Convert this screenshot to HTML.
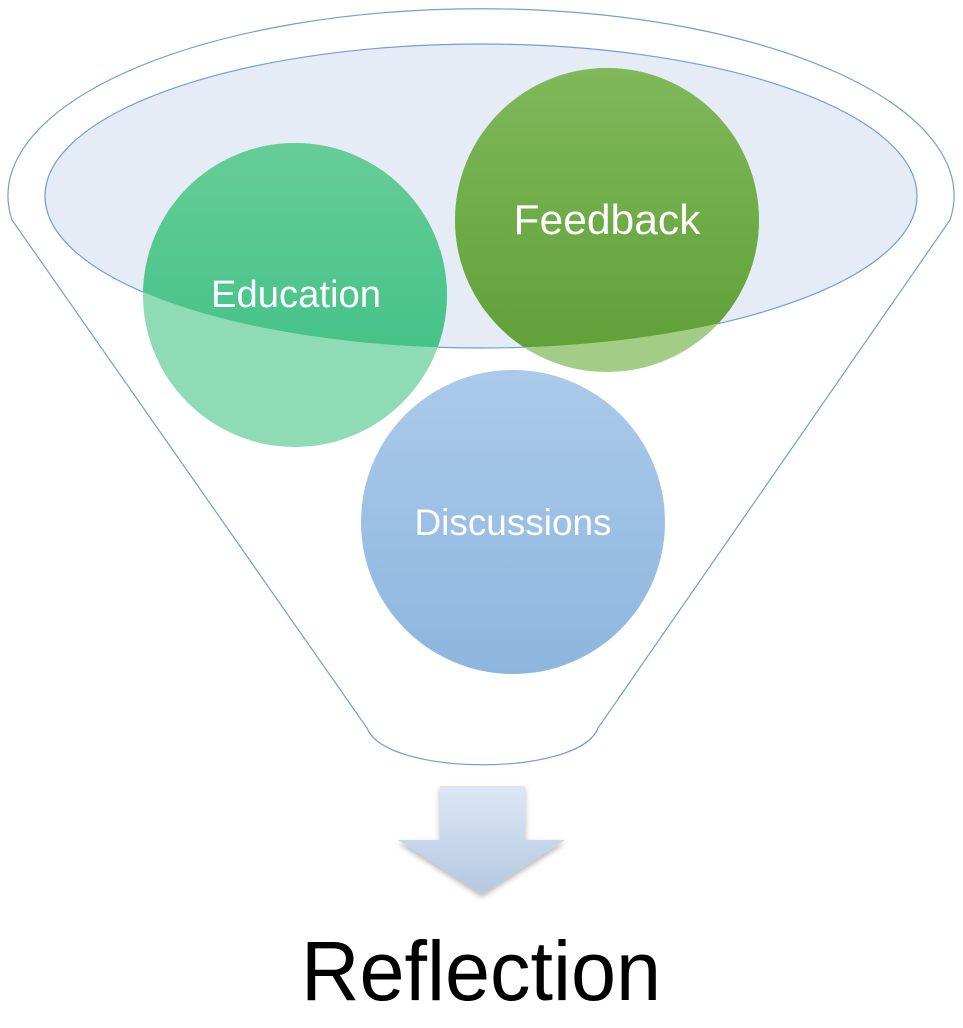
<!DOCTYPE html>
<html><head><style>
html,body{margin:0;padding:0;background:#fff;}
</style></head><body>
<svg width="963" height="1023" viewBox="0 0 963 1023" xmlns="http://www.w3.org/2000/svg">
<defs>
<linearGradient id="ed" x1="0" y1="0" x2="0" y2="1"><stop offset="0" stop-color="#66cd98"/><stop offset="1" stop-color="#36be80"/></linearGradient>
<linearGradient id="fb" x1="0" y1="0" x2="0" y2="1"><stop offset="0" stop-color="#80b85a"/><stop offset="1" stop-color="#5e9f35"/></linearGradient>
<linearGradient id="di" x1="0" y1="0" x2="0" y2="1"><stop offset="0" stop-color="#abcaeb"/><stop offset="1" stop-color="#8db6de"/></linearGradient>
<linearGradient id="ar" x1="0" y1="0" x2="0" y2="1"><stop offset="0" stop-color="#dce7f5"/><stop offset="1" stop-color="#b4c8e2"/></linearGradient>
<clipPath id="inner"><ellipse cx="481" cy="196" rx="436" ry="152"/></clipPath>
<filter id="sh" x="-20%" y="-20%" width="140%" height="140%"><feDropShadow dx="0" dy="3" stdDeviation="3" flood-color="#000" flood-opacity="0.3"/></filter>
</defs>
<path d="M 12 220 A 473 187 0 1 1 950 220 L 598 728 C 580 777 386 777 367 728 Z" fill="#fff" stroke="#6f9fd8" stroke-width="1.2"/>
<ellipse cx="481" cy="196" rx="436" ry="152" fill="#e6ecf6" stroke="#6f9fd8" stroke-width="1.2"/>
<circle cx="295" cy="295" r="152" fill="#8fdbb6"/>
<circle cx="607" cy="220" r="152" fill="#a3cc86"/>
<g clip-path="url(#inner)">
<circle cx="295" cy="295" r="152" fill="url(#ed)"/>
<circle cx="607" cy="220" r="152" fill="url(#fb)"/>
</g>
<circle cx="513" cy="522" r="152" fill="url(#di)"/>
<g font-family="'Liberation Sans', sans-serif" fill="#fff" text-anchor="middle">
<text x="296" y="307" font-size="38" textLength="170" lengthAdjust="spacingAndGlyphs">Education</text>
<text x="607" y="234" font-size="42" textLength="187" lengthAdjust="spacingAndGlyphs">Feedback</text>
<text x="513" y="535" font-size="37" textLength="197" lengthAdjust="spacingAndGlyphs">Discussions</text>
</g>
<path d="M 440 786 L 525 786 L 525 840 L 565 840 L 482 894 L 398 840 L 440 840 Z" fill="url(#ar)" filter="url(#sh)"/>
<text x="481" y="1000" font-family="'Liberation Sans', sans-serif" font-size="84" text-anchor="middle" fill="#000" textLength="360" lengthAdjust="spacingAndGlyphs">Reflection</text>
</svg>
</body></html>
